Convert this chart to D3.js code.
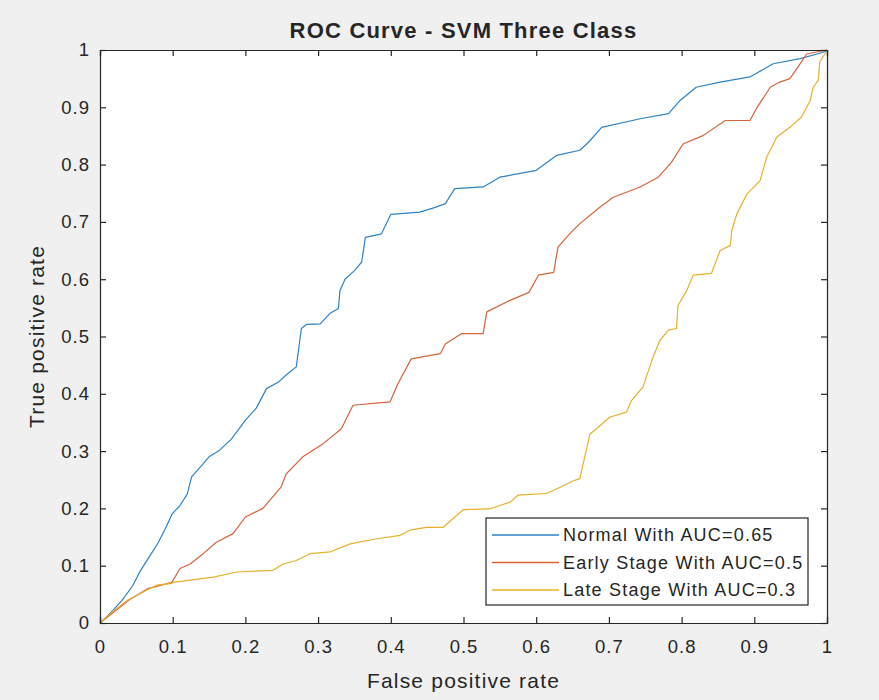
<!DOCTYPE html>
<html>
<head>
<meta charset="utf-8">
<script src="https://cdn.jsdelivr.net/npm/d3@7/dist/d3.min.js"></script>
<style>
  html, body { margin: 0; padding: 0; background: #f0f0f0; }
  svg { display: block; }
  text { font-family: "Liberation Sans", Arial, Helvetica, sans-serif; fill: #262626; }
</style>
</head>
<body>
<svg id="chart" width="879" height="700"></svg>
<script>
const titleText = "ROC Curve - SVM Three Class";
const xLabel = "False positive rate";
const yLabel = "True positive rate";
const tickValues = [0, 0.1, 0.2, 0.3, 0.4, 0.5, 0.6, 0.7, 0.8, 0.9, 1];
const tickLabels = ["0", "0.1", "0.2", "0.3", "0.4", "0.5", "0.6", "0.7", "0.8", "0.9", "1"];
const seriesNames = ["Normal With AUC=0.65", "Early Stage With AUC=0.5", "Late Stage With AUC=0.3"];
const seriesColors = ["#2d83c4", "#d8623a", "#e6b22c"];

const normalFpr = [0, 0.01, 0.02, 0.03, 0.045, 0.055, 0.066, 0.08, 0.09, 0.099, 0.11, 0.12, 0.126, 0.14, 0.15, 0.163, 0.18, 0.193, 0.20, 0.215, 0.229, 0.245, 0.258, 0.27, 0.277, 0.284, 0.303, 0.316, 0.328, 0.33, 0.337, 0.35, 0.36, 0.365, 0.387, 0.40, 0.44, 0.46, 0.475, 0.488, 0.527, 0.55, 0.60, 0.628, 0.66, 0.672, 0.69, 0.743, 0.782, 0.798, 0.82, 0.853, 0.894, 0.926, 0.963, 0.995, 1];
const normalTpr = [0, 0.012, 0.025, 0.039, 0.065, 0.09, 0.112, 0.14, 0.165, 0.19, 0.205, 0.225, 0.255, 0.275, 0.29, 0.30, 0.32, 0.342, 0.354, 0.375, 0.409, 0.42, 0.435, 0.447, 0.514, 0.521, 0.522, 0.54, 0.549, 0.58, 0.60, 0.615, 0.63, 0.673, 0.679, 0.713, 0.717, 0.725, 0.732, 0.758, 0.761, 0.778, 0.79, 0.816, 0.825, 0.839, 0.865, 0.88, 0.889, 0.912, 0.935, 0.944, 0.953, 0.976, 0.985, 0.996, 1];

const earlyFpr = [0, 0.02, 0.04, 0.066, 0.099, 0.11, 0.124, 0.142, 0.16, 0.183, 0.20, 0.224, 0.249, 0.256, 0.279, 0.307, 0.332, 0.348, 0.399, 0.41, 0.428, 0.468, 0.475, 0.497, 0.527, 0.532, 0.564, 0.59, 0.603, 0.624, 0.63, 0.646, 0.66, 0.688, 0.706, 0.743, 0.768, 0.786, 0.802, 0.83, 0.86, 0.894, 0.903, 0.922, 0.935, 0.949, 0.96, 0.972, 1];
const earlyTpr = [0, 0.02, 0.04, 0.06, 0.071, 0.095, 0.103, 0.121, 0.141, 0.156, 0.185, 0.20, 0.237, 0.26, 0.29, 0.313, 0.339, 0.38, 0.386, 0.418, 0.461, 0.47, 0.487, 0.505, 0.505, 0.543, 0.563, 0.577, 0.607, 0.612, 0.656, 0.679, 0.697, 0.726, 0.743, 0.761, 0.778, 0.804, 0.836, 0.851, 0.877, 0.877, 0.898, 0.935, 0.944, 0.95, 0.97, 0.993, 1];

const lateFpr = [0, 0.014, 0.037, 0.064, 0.078, 0.099, 0.10, 0.156, 0.188, 0.238, 0.252, 0.27, 0.289, 0.316, 0.344, 0.381, 0.413, 0.426, 0.449, 0.472, 0.50, 0.536, 0.564, 0.575, 0.614, 0.633, 0.653, 0.66, 0.674, 0.683, 0.701, 0.724, 0.731, 0.747, 0.759, 0.77, 0.782, 0.793, 0.795, 0.807, 0.816, 0.841, 0.853, 0.867, 0.869, 0.876, 0.89, 0.908, 0.917, 0.931, 0.949, 0.965, 0.977, 0.981, 0.988, 0.99, 0.997, 1];
const lateTpr = [0, 0.016, 0.039, 0.057, 0.066, 0.069, 0.071, 0.08, 0.089, 0.092, 0.103, 0.109, 0.121, 0.124, 0.138, 0.147, 0.153, 0.162, 0.167, 0.167, 0.198, 0.199, 0.211, 0.223, 0.226, 0.237, 0.249, 0.252, 0.33, 0.339, 0.359, 0.368, 0.388, 0.412, 0.458, 0.493, 0.511, 0.514, 0.554, 0.58, 0.607, 0.61, 0.65, 0.659, 0.685, 0.714, 0.749, 0.772, 0.813, 0.848, 0.865, 0.883, 0.912, 0.935, 0.947, 0.979, 0.993, 1];

const series = [
  { name: seriesNames[0], color: seriesColors[0], x: normalFpr, y: normalTpr },
  { name: seriesNames[1], color: seriesColors[1], x: earlyFpr, y: earlyTpr },
  { name: seriesNames[2], color: seriesColors[2], x: lateFpr, y: lateTpr }
];

(function () {
const svg = d3.select("#chart");
const W = 879, H = 700;
const m = { left: 100, top: 50, right: 52, bottom: 77 };
const pw = W - m.left - m.right, ph = H - m.top - m.bottom;

svg.append("rect").attr("width", W).attr("height", H).attr("fill", "#f0f0f0");

const x = d3.scaleLinear().domain([0, 1]).range([m.left, m.left + pw]);
const y = d3.scaleLinear().domain([0, 1]).range([m.top + ph, m.top]);

svg.append("rect").attr("x", m.left).attr("y", m.top).attr("width", pw).attr("height", ph).attr("fill", "#ffffff");

const fmt = (d) => tickLabels[tickValues.indexOf(d)];

svg.append("clipPath").attr("id", "clip").append("rect")
  .attr("x", m.left - 2).attr("y", m.top - 2).attr("width", pw + 4).attr("height", ph + 4);
const lineGen = d3.line().x(d => x(d[0])).y(d => y(d[1]));
const lg = svg.append("g").attr("clip-path", "url(#clip)");
series.forEach(s => {
  const pts = s.x.map((v, i) => [v, s.y[i]]);
  lg.append("path").datum(pts).attr("d", lineGen)
    .attr("fill", "none").attr("stroke", s.color).attr("stroke-width", 1.2)
    .attr("stroke-linejoin", "round");
});

const axisColor = "#262626";
const labelColor = "#3a3a3a";
const gBottom = svg.append("g").attr("transform", `translate(0,${m.top + ph})`)
  .call(d3.axisBottom(x).tickValues(tickValues).tickFormat(fmt).tickSize(-6).tickPadding(17));
const gLeft = svg.append("g").attr("transform", `translate(${m.left},0)`)
  .call(d3.axisLeft(y).tickValues(tickValues).tickFormat(fmt).tickSize(-6).tickPadding(10));
const gTop = svg.append("g").attr("transform", `translate(0,${m.top})`)
  .call(d3.axisTop(x).tickValues(tickValues).tickFormat("").tickSize(-6));
const gRight = svg.append("g").attr("transform", `translate(${m.left + pw},0)`)
  .call(d3.axisRight(y).tickValues(tickValues).tickFormat("").tickSize(-6));
[gBottom, gLeft, gTop, gRight].forEach(g => {
  g.selectAll("path.domain").attr("stroke", axisColor).attr("stroke-width", 1.2);
  g.selectAll(".tick line").attr("stroke", axisColor).attr("stroke-width", 1.2);
  g.selectAll(".tick text").attr("fill", labelColor)
    .style("font-family", "'Liberation Sans', Arial, sans-serif")
    .style("font-size", "18.5px").style("letter-spacing", "1px");
});

svg.append("text").attr("x", m.left + pw / 2).attr("y", 38)
  .attr("text-anchor", "middle")
  .style("font-size", "22px").style("font-weight", "bold").style("letter-spacing", "1.2px")
  .attr("fill", "#000").text(titleText);

svg.append("text").attr("x", m.left + pw / 2).attr("y", 688)
  .attr("text-anchor", "middle").style("font-size", "21px").style("letter-spacing", "1.2px")
  .attr("fill", labelColor).text(xLabel);
svg.append("text").attr("transform", `translate(44,${m.top + ph / 2}) rotate(-90)`)
  .attr("text-anchor", "middle").style("font-size", "21px").style("letter-spacing", "1.2px")
  .attr("fill", labelColor).text(yLabel);

const leg = svg.append("g");
const lx = 486, ly = 518, lw = 322, lh = 87;
leg.append("rect").attr("x", lx).attr("y", ly).attr("width", lw).attr("height", lh)
  .attr("fill", "#ffffff").attr("stroke", axisColor).attr("stroke-width", 1.2);
const rowY = [535, 562.5, 590];
series.forEach((s, i) => {
  leg.append("line").attr("x1", lx + 6).attr("x2", lx + 73)
    .attr("y1", rowY[i]).attr("y2", rowY[i])
    .attr("stroke", s.color).attr("stroke-width", 1.3);
  leg.append("text").attr("x", lx + 77).attr("y", rowY[i]).attr("dy", "0.35em")
    .style("font-size", "18px").style("letter-spacing", "1.2px")
    .text(s.name);
});
})();
</script>
</body>
</html>
